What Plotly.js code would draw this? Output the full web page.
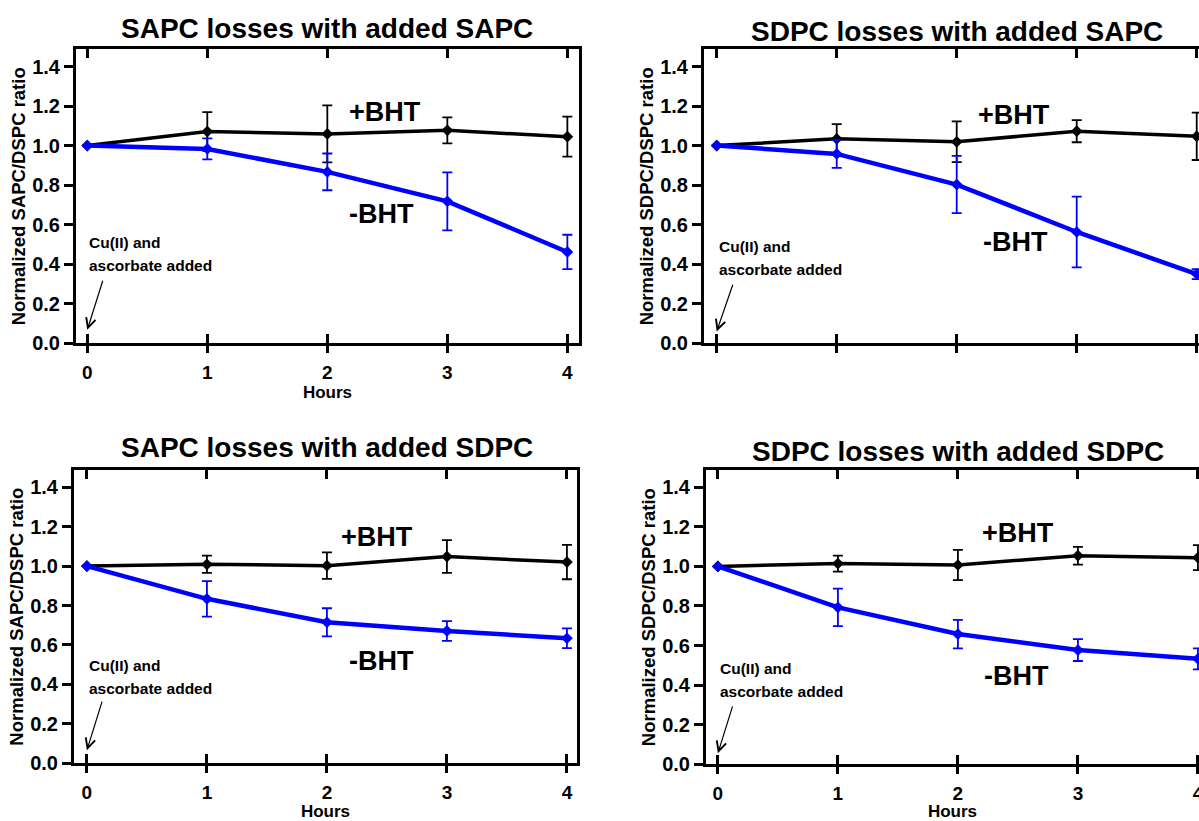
<!DOCTYPE html>
<html><head><meta charset="utf-8">
<script src="https://cdn.plot.ly/plotly-3.0.1.min.js"></script>
<style>html,body{margin:0;padding:0;background:#fff;overflow:hidden}#chart{width:1199px;height:821px}</style>
</head><body><div id="chart"></div><script>
// ---------- data ----------
const hours = [0, 1, 2, 3, 4];
const hourTickText = ['0', '1', '2', '3', '4'];
const ratioTicks = [0, 0.2, 0.4, 0.6, 0.8, 1.0, 1.2, 1.4];

const panelTitles = ['SAPC losses with added SAPC', 'SDPC losses with added SAPC',
                     'SAPC losses with added SDPC', 'SDPC losses with added SDPC'];
const yTitles = ['Normalized SAPC/DSPC ratio', 'Normalized SDPC/DSPC ratio',
                 'Normalized SAPC/DSPC ratio', 'Normalized SDPC/DSPC ratio'];
const xTitle = 'Hours';
const plusLabel = '+BHT';
const minusLabel = '-BHT';
const noteLine1 = 'Cu(II) and';
const noteLine2 = 'ascorbate added';

// Panel A: SAPC losses with added SAPC
const sapcSapcPlus     = [1.0, 1.071, 1.059, 1.077, 1.045];
const sapcSapcPlusErr  = [0, 0.098, 0.144, 0.066, 0.101];
const sapcSapcMinus    = [1.0, 0.983, 0.867, 0.718, 0.462];
const sapcSapcMinusErr = [0, 0.053, 0.093, 0.147, 0.087];
// Panel B: SDPC losses with added SAPC
const sdpcSapcPlus     = [1.0, 1.034, 1.019, 1.073, 1.047];
const sdpcSapcPlusErr  = [0, 0.075, 0.103, 0.056, 0.120];
const sdpcSapcMinus    = [1.0, 0.958, 0.803, 0.563, 0.350];
const sdpcSapcMinusErr = [0, 0.071, 0.145, 0.179, 0.025];
// Panel C: SAPC losses with added SDPC
const sapcSdpcPlus     = [1.0, 1.009, 1.002, 1.048, 1.020];
const sapcSdpcPlusErr  = [0, 0.044, 0.067, 0.083, 0.087];
const sapcSdpcMinus    = [1.0, 0.834, 0.715, 0.671, 0.634];
const sapcSdpcMinusErr = [0, 0.090, 0.071, 0.050, 0.050];
// Panel D: SDPC losses with added SDPC
const sdpcSdpcPlus     = [1.0, 1.014, 1.007, 1.054, 1.044];
const sdpcSdpcPlusErr  = [0, 0.040, 0.076, 0.045, 0.063];
const sdpcSdpcMinus    = [1.0, 0.793, 0.658, 0.577, 0.533];
const sdpcSdpcMinusErr = [0, 0.095, 0.072, 0.055, 0.053];

// ---------- layout / styling ----------
const FONT = 'Liberation Sans, Arial, Helvetica, sans-serif';
const BLACK = '#000000', BLUE = '#0000ff';

const panels = [
  {plus: sapcSapcPlus, plusErr: sapcSapcPlusErr, minus: sapcSapcMinus, minusErr: sapcSapcMinusErr,
   xdom: [76/1199, 579/1199], ydom: [(821-343.3)/821, (821-49.3)/821], xr: [-0.094, 4.097],
   labels: true, rightLine: true,
   pos: {title: (821-28.3)/821, plus: [2.16, 1.17], minus: [2.16, 0.652], n1: 0.508, n2: 0.392, arrow: [0.133, 0.324, 0.068]}},
  {plus: sdpcSapcPlus, plusErr: sdpcSapcPlusErr, minus: sdpcSapcMinus, minusErr: sdpcSapcMinusErr,
   xdom: [704/1199, 1], ydom: [(821-343.3)/821, (821-49.3)/821], xr: [-0.106, 4.019],
   labels: false, rightLine: false,
   pos: {title: (821-31.7)/821, plus: [2.16, 1.157], minus: [2.2, 0.51], n1: 0.49, n2: 0.375, arrow: [0.138, 0.304, 0.06]}},
  {plus: sapcSdpcPlus, plusErr: sapcSdpcPlusErr, minus: sapcSdpcMinus, minusErr: sapcSdpcMinusErr,
   xdom: [74/1199, 577/1199], ydom: [(821-763.3)/821, (821-470)/821], xr: [-0.1075, 4.084],
   labels: true, rightLine: true,
   pos: {title: (821-447)/821, plus: [2.1, 1.148], minus: [2.17, 0.52], n1: 0.498, n2: 0.38, arrow: [0.13, 0.32, 0.066]}},
  {plus: sdpcSdpcPlus, plusErr: sdpcSdpcPlusErr, minus: sdpcSdpcMinus, minusErr: sdpcSdpcMinusErr,
   xdom: [706/1199, 1], ydom: [(821-764.3)/821, (821-470)/821], xr: [-0.099, 4.009],
   labels: true, rightLine: false,
   pos: {title: (821-451)/821, plus: [2.18, 1.169], minus: [2.2, 0.447], n1: 0.486, n2: 0.367, arrow: [0.126, 0.3, 0.056]}}
];

const traces = [];
const layout = {
  width: 1199, height: 821,
  margin: {l: 0, r: 0, t: 0, b: 0},
  paper_bgcolor: '#ffffff', plot_bgcolor: 'rgba(0,0,0,0)',
  showlegend: false,
  font: {family: FONT, color: BLACK},
  annotations: []
};

function series(y, err, color, width, xa, ya) {
  return {
    x: hours, y: y, xaxis: xa, yaxis: ya, type: 'scatter', mode: 'lines+markers',
    line: {color: color, width: width},
    marker: {symbol: 'diamond', size: 9, color: color},
    error_y: {type: 'data', array: err, visible: true, color: color, thickness: 1.8, width: 5},
    cliponaxis: false, hoverinfo: 'x+y'
  };
}

function axId(letter, n) { return n === 1 ? letter : letter + n; }
function axKey(letter, n) { return n === 1 ? letter + 'axis' : letter + 'axis' + n; }

panels.forEach((p, i) => {
  const n = i + 1;
  const xa = axId('x', n), ya = axId('y', n), xo = axId('x', n + 4);
  // black (+BHT) on the main x axis, blue (-BHT) on the overlaid twin x axis (same range)
  traces.push(series(p.plus, p.plusErr, BLACK, 3.5, xa, ya));
  traces.push(series(p.minus, p.minusErr, BLUE, 4.5, xo, ya));

  layout[axKey('x', n)] = {
    domain: p.xdom, range: p.xr, anchor: ya,
    showline: true, linewidth: 3, linecolor: BLACK, mirror: 'ticks',
    ticks: 'inside', ticklen: 9, tickwidth: 3, tickcolor: BLACK,
    tickmode: 'array', tickvals: hours, showticklabels: false,
    showgrid: false, zeroline: false, automargin: false, fixedrange: true
  };
  layout[axKey('x', n + 4)] = {
    overlaying: xa, anchor: ya, range: p.xr, side: 'bottom',
    showline: false, ticks: 'outside', ticklen: 9, tickwidth: 3, tickcolor: BLACK,
    tickmode: 'array', tickvals: hours, ticktext: hourTickText,
    showticklabels: p.labels, ticklabelstandoff: 3, ticklabeloverflow: 'allow',
    tickfont: {family: FONT, size: 19, color: BLACK, weight: 'bold'},
    title: p.labels ? {text: xTitle, standoff: 4, font: {family: FONT, size: 17, color: BLACK, weight: 'bold'}} : {text: ''},
    showgrid: false, zeroline: false, automargin: false, fixedrange: true
  };
  layout[axKey('y', n)] = {
    domain: p.ydom, range: [0, 1.487], anchor: xa,
    showline: true, linewidth: 3, linecolor: BLACK, mirror: p.rightLine,
    ticks: 'outside', ticklen: 9, tickwidth: 3, tickcolor: BLACK,
    tickmode: 'array', tickvals: ratioTicks, tickformat: '.1f',
    tickfont: {family: FONT, size: 20, color: BLACK, weight: 'bold'},
    title: {text: yTitles[i], standoff: 2, font: {family: FONT, size: 18.5, color: BLACK, weight: 'bold'}},
    showgrid: false, zeroline: false, automargin: false, fixedrange: true
  };

  const A = layout.annotations;
  A.push({xref: xa, yref: 'paper', x: 2, y: p.pos.title, text: panelTitles[i], showarrow: false,
          xanchor: 'center', yanchor: 'middle', font: {family: FONT, size: 28, color: BLACK, weight: 'bold'}});
  A.push({xref: xa, yref: ya, x: p.pos.plus[0], y: p.pos.plus[1], text: plusLabel, showarrow: false,
          xanchor: 'left', yanchor: 'middle', font: {family: FONT, size: 27, color: BLACK, weight: 'bold'}});
  A.push({xref: xa, yref: ya, x: p.pos.minus[0], y: p.pos.minus[1], text: minusLabel, showarrow: false,
          xanchor: 'left', yanchor: 'middle', font: {family: FONT, size: 27, color: BLACK, weight: 'bold'}});
  A.push({xref: xa, yref: ya, x: 0, y: p.pos.n1, text: noteLine1, showarrow: false,
          xanchor: 'left', yanchor: 'middle', font: {family: FONT, size: 15.5, color: BLACK, weight: 'bold'}});
  A.push({xref: xa, yref: ya, x: 0, y: p.pos.n2, text: noteLine2, showarrow: false,
          xanchor: 'left', yanchor: 'middle', font: {family: FONT, size: 15.5, color: BLACK, weight: 'bold'}});
  A.push({xref: xa, yref: ya, x: 0, y: p.pos.arrow[2], axref: xa, ayref: ya,
          ax: p.pos.arrow[0], ay: p.pos.arrow[1], text: '', showarrow: true,
          arrowhead: 5, arrowsize: 1.6, arrowwidth: 1.2, arrowcolor: BLACK, standoff: 0, startstandoff: 0});
});

Plotly.newPlot('chart', traces, layout, {staticPlot: true, displayModeBar: false});
</script></body></html>
